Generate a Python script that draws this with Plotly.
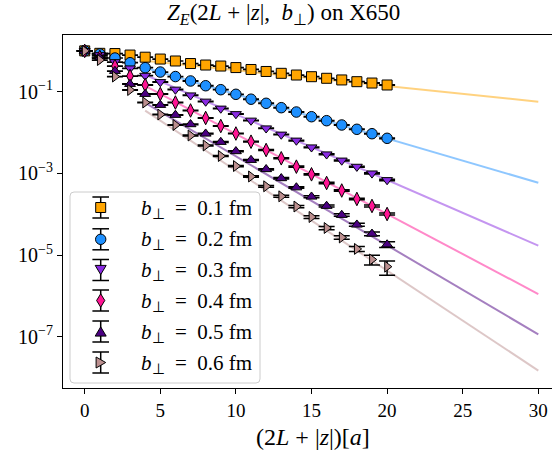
import numpy as np
import plotly.graph_objects as go

# ---------------- data ----------------
x_vals = list(range(21))
b_labels = ["0.1", "0.2", "0.3", "0.4", "0.5", "0.6"]

z_b01 = [1.0, 0.871, 0.86, 0.79, 0.70, 0.63, 0.565, 0.49, 0.45, 0.425, 0.39, 0.35, 0.313,
         0.282, 0.256, 0.233, 0.213, 0.194, 0.176, 0.163, 0.146]
z_b02 = [1.0, 0.84, 0.668, 0.513, 0.387, 0.303, 0.235, 0.183, 0.140, 0.112, 0.0863, 0.0655,
         0.052, 0.0406, 0.0318, 0.0244, 0.0195, 0.0153, 0.0120, 0.00936, 0.00722]
z_b03 = [1.0, 0.79, 0.533, 0.374, 0.247, 0.173, 0.113, 0.0816, 0.0575, 0.0388, 0.0284, 0.0197,
         0.0127, 0.00895, 0.00638, 0.00435, 0.00293, 0.00207, 0.00146, 0.00100, 0.000688]
z_b04 = [1.0, 0.708, 0.426, 0.242, 0.146, 0.0879, 0.0544, 0.0347, 0.0227, 0.01445, 0.00946,
         0.00596, 0.00373, 0.00234, 0.00146, 0.000948, 0.000581, 0.000380, 0.000236,
         0.000159, 0.000101]
z_b05 = [1.0, 0.668, 0.321, 0.154, 0.0878, 0.0472, 0.0269, 0.0159, 0.00936, 0.00586, 0.00347,
         0.00212, 0.00126, 0.000757, 0.000451, 0.000268, 0.000159, 0.0000955, 0.0000553,
         0.0000331, 0.0000181]
z_b06 = [1.0, 0.597, 0.235, 0.110, 0.0544, 0.0276, 0.0153, 0.00846, 0.00481, 0.00266, 0.00151,
         0.000838, 0.000482, 0.000274, 0.000154, 0.0000853, 0.0000459, 0.0000269, 0.0000141,
         0.00000777, 0.00000518]

# relative statistical errors
rerr_b01 = [0.004, 0.005, 0.005, 0.005, 0.005, 0.005, 0.006, 0.006, 0.006, 0.006, 0.007, 0.007,
            0.007, 0.008, 0.008, 0.008, 0.009, 0.009, 0.010, 0.010, 0.011]
rerr_b02 = [0.004, 0.005, 0.005, 0.006, 0.006, 0.007, 0.007, 0.008, 0.008, 0.009, 0.010, 0.010,
            0.011, 0.012, 0.013, 0.014, 0.015, 0.016, 0.017, 0.018, 0.020]
rerr_b03 = [0.004, 0.005, 0.006, 0.007, 0.008, 0.009, 0.010, 0.011, 0.012, 0.013, 0.014, 0.016,
            0.017, 0.019, 0.021, 0.023, 0.025, 0.027, 0.030, 0.033, 0.036]
rerr_b04 = [0.004, 0.006, 0.007, 0.008, 0.010, 0.011, 0.013, 0.014, 0.016, 0.018, 0.020, 0.022,
            0.025, 0.028, 0.031, 0.034, 0.038, 0.042, 0.047, 0.052, 0.058]
rerr_b05 = [0.004, 0.006, 0.008, 0.010, 0.012, 0.014, 0.016, 0.018, 0.021, 0.024, 0.027, 0.031,
            0.035, 0.040, 0.046, 0.052, 0.060, 0.070, 0.085, 0.10, 0.16]
rerr_b06 = [0.005, 0.007, 0.009, 0.012, 0.014, 0.017, 0.020, 0.023, 0.027, 0.031, 0.036, 0.042,
            0.048, 0.056, 0.065, 0.075, 0.09, 0.10, 0.14, 0.27, 0.38]

# exponential fit parameters Z = A exp(-m x), drawn from x_fit_start to x_fit_end
fit_A = [0.813, 1.047, 1.143, 0.841, 0.396, 0.329]
fit_m = [0.0887, 0.2494, 0.3707, 0.4513, 0.502, 0.564]
x_fit_start = 4
x_fit_end = 30

series_z = [z_b01, z_b02, z_b03, z_b04, z_b05, z_b06]
series_rerr = [rerr_b01, rerr_b02, rerr_b03, rerr_b04, rerr_b05, rerr_b06]

x_tick_vals = [0, 5, 10, 15, 20, 25, 30]
y_tick_vals = [1e-1, 1e-3, 1e-5, 1e-7]
y_tick_text = ["10<sup>\u22121</sup>", "10<sup>\u22123</sup>", "10<sup>\u22125</sup>", "10<sup>\u22127</sup>"]

# ---------------- style ----------------
colors = ["#FFA500", "#1E90FF", "#8A2BE2", "#FF1493", "#4B0082", "#BC8F8F"]
line_colors = ["rgba(255,165,0,0.5)", "rgba(30,144,255,0.5)", "rgba(138,43,226,0.5)",
               "rgba(255,20,147,0.5)", "rgba(75,0,130,0.5)", "rgba(188,143,143,0.5)"]
symbols = ["square", "circle", "triangle-down", "diamond-tall", "triangle-up", "triangle-right"]
sizes = [10, 10.5, 9.5, 9.7, 9.5, 9.5]
FONT = "Liberation Serif, Times New Roman, serif"
FS = 19

W, H = 552, 450
ML, MR, MT, MB = 63, 0, 35, 62
PW, PH = W - ML - MR, H - MT - MB

fig = go.Figure()

for i in range(6):
    xf = np.array([x_fit_start, x_fit_end], dtype=float)
    yf = fit_A[i] * np.exp(-fit_m[i] * xf)
    fig.add_trace(go.Scatter(x=xf, y=yf, mode="lines",
                             line=dict(color=line_colors[i], width=2),
                             showlegend=False, hoverinfo="skip"))

for i in range(6):
    z = np.array(series_z[i])
    err = z * np.array(series_rerr[i])
    fig.add_trace(go.Scatter(
        x=x_vals, y=z, mode="markers",
        marker=dict(symbol=symbols[i], size=sizes[i], color=colors[i],
                    line=dict(color="black", width=1)),
        error_y=dict(type="data", array=err, visible=True, color="black",
                     thickness=1.5, width=8),
        showlegend=False, name=f"b = {b_labels[i]} fm"))

# ---------------- manual legend (matplotlib style) ----------------
def px2paper_x(px):
    return (px - ML) / PW

def px2paper_y(py):
    return (H - MB - py) / PH

shapes = []
box_l, box_b, box_w, box_h, r = 70, 383, 190, 191, 4
rect_path = (f"M{r},0 H{box_w - r} Q{box_w},0 {box_w},{r} V{box_h - r} "
             f"Q{box_w},{box_h} {box_w - r},{box_h} H{r} Q0,{box_h} 0,{box_h - r} "
             f"V{r} Q0,0 {r},0 Z")
shapes.append(dict(type="path", xref="paper", yref="paper", xsizemode="pixel", ysizemode="pixel",
                   xanchor=px2paper_x(box_l), yanchor=px2paper_y(box_b), path=rect_path,
                   fillcolor="rgba(255,255,255,0.8)", line=dict(color="#cccccc", width=1),
                   layer="above"))

marker_paths = [
    "M-5,-5 H5 V5 H-5 Z",
    None,
    "M-5.5,4.6 L5.5,4.6 L0,-4.6 Z",
    "M0,6.7 L4.1,0 L0,-6.7 L-4.1,0 Z",
    "M0,4.6 L5.5,-4.6 L-5.5,-4.6 Z",
    "M5,0 L-4.6,5.5 L-4.6,-5.5 Z",
]
legend_rows = [207.5, 239.3, 270, 300.5, 331.5, 362.5]
sym_x = 100.7
for i, row in enumerate(legend_rows):
    ax = px2paper_x(sym_x)
    ay = px2paper_y(row)
    common = dict(xref="paper", yref="paper", xsizemode="pixel", ysizemode="pixel",
                  xanchor=ax, yanchor=ay, layer="above")
    shapes.append(dict(type="line", x0=0, x1=0, y0=-10.5, y1=10.5,
                       line=dict(color="black", width=1.5), **common))
    for cy in (-10.5, 10.5):
        shapes.append(dict(type="line", x0=-8.3, x1=8.3, y0=cy, y1=cy,
                           line=dict(color="black", width=1.5), **common))
    if marker_paths[i] is None:
        shapes.append(dict(type="circle", x0=-5.2, x1=5.2, y0=-5.2, y1=5.2,
                           fillcolor=colors[i], line=dict(color="black", width=1), **common))
    else:
        shapes.append(dict(type="path", path=marker_paths[i], fillcolor=colors[i],
                           line=dict(color="black", width=1), **common))

annotations = []
for i, row in enumerate(legend_rows):
    annotations.append(dict(
        text=f"<i>b</i><sub>\u22a5</sub>  =  {b_labels[i]} fm",
        xref="paper", yref="paper", x=px2paper_x(139), y=px2paper_y(row + 1),
        xanchor="left", yanchor="middle", showarrow=False,
        font=dict(family=FONT, size=21, color="black")))

# title and x-axis label
annotations.append(dict(
    text="<i>Z</i><sub><i>E</i></sub>(2<i>L</i> + |<i>z</i>|,  <i>b</i><sub>\u22a5</sub>) on X650",
    xref="paper", yref="paper", x=px2paper_x(283.6), y=px2paper_y(14),
    xanchor="center", yanchor="middle", showarrow=False,
    font=dict(family=FONT, size=23, color="black")))
annotations.append(dict(
    text="(2<i>L</i> + |<i>z</i>|)[<i>a</i>]",
    xref="paper", yref="paper", x=px2paper_x(312.6), y=px2paper_y(437),
    xanchor="center", yanchor="middle", showarrow=False,
    font=dict(family=FONT, size=24, color="black")))

x_unit = 15.12
x_zero_px = 84.7
x_range = [(ML - x_zero_px) / x_unit, (W - MR - x_zero_px) / x_unit]
px_per_dec = 40.83
y_top = -1 + (91.7 - MT) / px_per_dec
y_range = [y_top - PH / px_per_dec, y_top]

fig.update_layout(
    width=W, height=H,
    margin=dict(l=ML, r=MR, t=MT, b=MB, pad=0),
    paper_bgcolor="white", plot_bgcolor="white",
    font=dict(family=FONT, size=FS, color="black"),
    shapes=shapes, annotations=annotations,
    xaxis=dict(range=x_range, tickvals=x_tick_vals, ticks="outside", ticklen=5,
               tickwidth=1, tickcolor="black", showline=True, linecolor="black",
               linewidth=1.2, mirror=True, showgrid=False, zeroline=False,
               tickfont=dict(family=FONT, size=FS)),
    yaxis=dict(type="log", range=y_range, tickvals=y_tick_vals, ticktext=y_tick_text,
               ticks="outside", ticklen=5, tickwidth=1, tickcolor="black",
               showline=True, linecolor="black", linewidth=1.2, mirror=False,
               showgrid=False, zeroline=False, tickfont=dict(family=FONT, size=20)),
    showlegend=False,
)

fig.write_html("out.html", config={"displayModeBar": False},
               post_script="document.body.style.margin='0';document.body.style.overflow='hidden';")
